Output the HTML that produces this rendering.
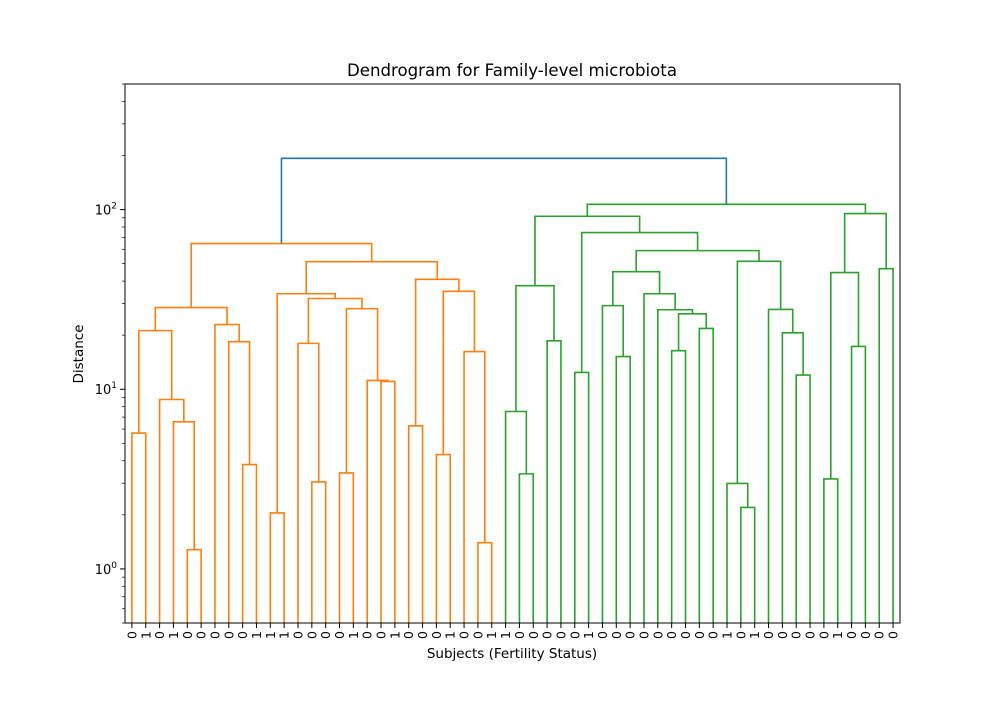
<!DOCTYPE html>
<html><head><meta charset="utf-8"><style>
body{margin:0;background:#fff;}
svg text{font-family:"DejaVu Sans","Liberation Sans",sans-serif;}
</style></head><body>
<svg id="chart" width="1000" height="700" xmlns="http://www.w3.org/2000/svg">
<rect width="1000" height="700" fill="#fff"/>
<text x="512" y="76" font-size="16.6" text-anchor="middle">Dendrogram for Family-level microbiota</text>
<text x="512" y="658" font-size="13.5" text-anchor="middle">Subjects (Fertility Status)</text>
<text x="0" y="0" font-size="13.5" text-anchor="middle" transform="translate(83,354) rotate(-90)">Distance</text>
<g id="links"></g>
<g id="axes"></g>
</svg>
<script>
const leafLabels = ["0","1","0","1","0","0","0","0","0","1","1","1","0","0",
 "0","0","1","0","0","1","0","0","0","1","0","0","1","1",
 "0","0","0","0","0","1","0","0","0","0","0","0","0","0",
 "0","1","0","1","0","0","0","0","0","1","0","0","0","0"];
const mergeLeft = [0,4,3,2,56,8,7,6,60,10,13,12,15,18,17,68,67,65,20,22,25,24,75,74,73,64,
 28,27,30,83,32,35,34,39,41,89,38,37,88,44,43,48,47,46,96,94,86,85,50,52,104,54,106,103,81];
const mergeRight = [1,5,57,58,59,9,61,62,63,11,14,66,16,19,69,70,71,72,21,23,26,76,77,78,79,80,
 29,82,31,84,33,36,87,40,42,90,91,92,93,45,95,49,97,98,99,100,101,102,51,53,105,55,107,108,109];
const mergeHeights = [5.70,1.28,6.59,8.77,21.2,3.81,18.4,22.9,28.5,2.05,3.05,18.0,3.42,11.05,11.2,28.1,32.0,34.0,6.26,4.33,1.40,16.2,35.1,40.9,51.3,64.7,
 3.38,7.52,18.6,37.7,12.4,15.2,29.2,16.4,21.8,26.3,27.7,34.0,45.1,2.20,2.99,12.0,20.6,27.8,51.5,59.1,74.5,91.8,3.17,17.3,44.6,46.9,95.0,107,193];
const yTickValues = [1,10,100];
const yTickExps = ["0","1","2"];

const NS="http://www.w3.org/2000/svg";
const L=125,R=900,T=84,B=623;
const yMin=Math.log10(0.5), yMax=Math.log10(500);
const N=leafLabels.length;
function xScale(p){return L+(p+0.5)*(R-L)/N;}
function yScale(v){ if(v<=0) return B; return B-(Math.log10(v)-yMin)/(yMax-yMin)*(B-T);}
const nx=[],nh=[];
for(let i=0;i<N;i++){nx[i]=xScale(i);nh[i]=0;}
const links=document.getElementById('links');
const orangeMax = 81;
for(let k=0;k<mergeLeft.length;k++){
  const id=N+k,a=mergeLeft[k],b=mergeRight[k],h=mergeHeights[k];
  nx[id]=(nx[a]+nx[b])/2; nh[id]=h;
  const color = k===mergeLeft.length-1 ? "#1f77b4" : (id<=orangeMax ? "#ff7f0e" : "#2ca02c");
  const pl=document.createElementNS(NS,'polyline');
  pl.setAttribute('points',`${nx[a]},${yScale(nh[a])} ${nx[a]},${yScale(h)} ${nx[b]},${yScale(h)} ${nx[b]},${yScale(nh[b])}`);
  pl.setAttribute('fill','none');pl.setAttribute('stroke',color);pl.setAttribute('stroke-width','1.6');
  
  
  links.appendChild(pl);
}
const axes=document.getElementById('axes');
const frame=document.createElementNS(NS,'rect');
frame.setAttribute('x',L);frame.setAttribute('y',T);frame.setAttribute('width',R-L);frame.setAttribute('height',B-T);
frame.setAttribute('fill','none');frame.setAttribute('stroke','#000');frame.setAttribute('stroke-width','1');


axes.appendChild(frame);
for(let d=-1;d<=2;d++){for(let m=1;m<10;m++){const v=m*Math.pow(10,d);if(v<0.5||v>500)continue;
  const y=yScale(v);const major=(m===1);
  const t=document.createElementNS(NS,'line');
  t.setAttribute('x1',L);t.setAttribute('x2',L-(major?5:3));t.setAttribute('y1',y);t.setAttribute('y2',y);
  t.setAttribute('stroke','#000');t.setAttribute('stroke-width',major?'1':'0.7');
  
  
  axes.appendChild(t);}}
yTickValues.forEach((v,i)=>{
  const y=yScale(v);
  const tx=document.createElementNS(NS,'text');
  tx.setAttribute('x',L-8);tx.setAttribute('y',y+5);tx.setAttribute('font-size','13');tx.setAttribute('text-anchor','end');
  
  
  tx.innerHTML='10<tspan dy="-6" font-size="9">'+yTickExps[i]+'</tspan>';
  axes.appendChild(tx);
});
leafLabels.forEach((lab,i)=>{
  const x=xScale(i);
  const t=document.createElementNS(NS,'line');
  t.setAttribute('x1',x);t.setAttribute('x2',x);t.setAttribute('y1',B);t.setAttribute('y2',B+5);
  t.setAttribute('stroke','#000');t.setAttribute('stroke-width','1');
  
  
  axes.appendChild(t);
  const tx=document.createElementNS(NS,'text');
  tx.setAttribute('transform',`translate(${x+4.5},${B+8}) rotate(-90)`);
  tx.setAttribute('font-size','12.5');tx.setAttribute('text-anchor','end');
  
  
  tx.textContent=lab;
  axes.appendChild(tx);
});
</script>
</body></html>
